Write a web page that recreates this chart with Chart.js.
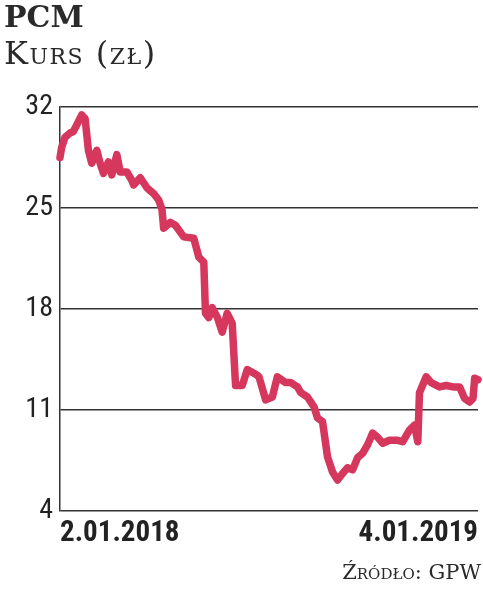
<!DOCTYPE html>
<html>
<head>
<meta charset="utf-8">
<script src="https://cdn.jsdelivr.net/npm/chart.js@4.4.1/dist/chart.umd.min.js"></script>
<style>
html,body{margin:0;padding:0;background:#fff;width:483px;height:593px;overflow:hidden;}
#wrap{position:relative;width:483px;height:593px;}
canvas{position:absolute;left:0;top:0;}
.t{position:absolute;white-space:nowrap;color:#2a2a2a;font-family:"DejaVu Serif",serif;line-height:1;}
#title{left:4px;top:2px;font-size:30px;font-weight:bold;}
#sub{left:4px;top:37px;font-size:32px;font-variant:small-caps;letter-spacing:1.5px;}
#src{right:2px;top:562px;font-size:21px;font-variant:small-caps;}
</style>
</head>
<body>
<div id="wrap">
<canvas id="c" width="483" height="593"></canvas>
<div class="t" id="title">PCM</div>
<div class="t" id="sub">Kurs (zł)</div>
<div class="t" id="src">Źródło: GPW</div>
</div>
<script>
// trading-day index since 2.01.2018
const days = [0,1,3,6,8,10,13,15,17,19,22,24,26,29,31,34,36,40,43,44,48,52,56,59,61,62,66,69,74,80,83,86,87,89,91,94,97,100,103,105,109,112,118,119,123,127,130,135,138,142,144,148,152,154,157,160,163,166,169,172,175,178,181,184,187,190,193,197,202,205,209,212,214,215,219,222,227,231,235,239,242,245,247,248,250];
const prices = [28.5,29.2,29.9,30.2,30.3,30.75,31.45,31.2,29.0,28.1,29.0,28.1,27.4,28.2,27.3,28.7,27.5,27.5,26.9,26.6,27.1,26.4,26.0,25.55,24.9,23.6,24.0,23.8,23.0,22.9,21.6,21.25,17.7,17.4,18.1,17.45,16.4,17.7,17.0,12.7,12.7,13.8,13.4,13.3,11.7,11.9,13.3,12.9,12.9,12.6,12.2,11.9,11.2,10.45,10.2,7.75,6.7,6.15,6.6,7.0,6.85,7.7,8.0,8.6,9.4,9.1,8.7,8.9,8.9,8.8,9.6,9.95,8.8,12.2,13.3,12.9,12.6,12.7,12.6,12.6,11.8,11.55,11.8,13.2,13.1];
const xTickValues = [0,250];
const xTickLabels = ['2.01.2018','4.01.2019'];
const yTicks = [4,11,18,25,32];

const pts = days.map((d,i)=>({x:d,y:prices[i]}));

new Chart(document.getElementById('c'),{
  type:'line',
  data:{datasets:[{data:pts,borderColor:'#d5375d',borderWidth:7.5,pointRadius:0,borderJoinStyle:'round',borderCapStyle:'round',tension:0,clip:false}]},
  options:{
    responsive:false,animation:false,
    layout:{padding:{top:107,right:5,left:0,bottom:30}},
    plugins:{legend:{display:false},tooltip:{enabled:false}},
    scales:{
      x:{type:'linear',min:0,max:250,
        afterBuildTicks:s=>{s.ticks=xTickValues.map(v=>({value:v}));},
        grid:{display:false,drawTicks:false},
        border:{display:false},
        ticks:{align:'inner',maxRotation:0,autoSkip:false,padding:5,color:'#222',
          font:{family:'Roboto,"DejaVu Sans Condensed",sans-serif',size:29,weight:'bold condensed'},
          callback:(v)=>xTickLabels[xTickValues.indexOf(v)]},
        afterFit:s=>{s.height=52;}
      },
      y:{min:4,max:32,
        afterBuildTicks:s=>{s.ticks=yTicks.map(v=>({value:v}));},
        grid:{color:'#333',lineWidth:1.5,drawTicks:false},
        border:{display:true,color:'#333',width:1.5},
        ticks:{padding:7,color:'#222',
          font:{family:'Roboto,"DejaVu Sans Condensed",sans-serif',size:28,weight:'normal condensed'}},
        afterFit:s=>{s.width=60;}
      }
    }
  }
});
</script>
</body>
</html>
